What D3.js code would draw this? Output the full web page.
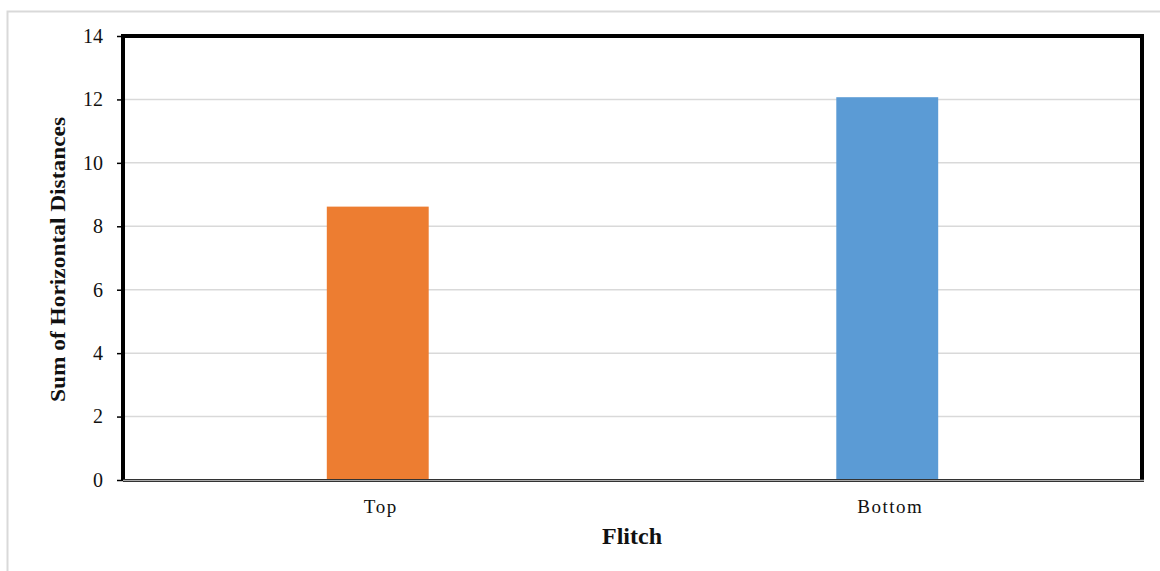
<!DOCTYPE html>
<html>
<head>
<meta charset="utf-8">
<script src="https://cdn.jsdelivr.net/npm/d3@7"></script>
<style>
  html, body { margin: 0; padding: 0; background: #fff; }
  svg { display: block; }
  text { font-family: "Liberation Serif", "Times New Roman", serif; fill: #111; }
</style>
</head>
<body>
<svg id="chart" width="1160" height="571"></svg>
<script>
// Flitch position vs. summed horizontal distance
const categories = ["Top", "Bottom"];
const values = [8.62, 12.07];
const barColors = ["#ed7d31", "#5b9bd5"];
const yTicks = [0, 2, 4, 6, 8, 10, 12, 14];
const xTitle = "Flitch";
const yTitle = "Sum of Horizontal Distances";

const svg = d3.select("#chart");
const W = 1160, H = 571;
const plot = { left: 123, right: 1142, top: 36, bottom: 480 };

// outer chart-area frame
svg.append("rect")
  .attr("x", 7.5).attr("y", 11.5)
  .attr("width", W + 10).attr("height", H + 10)
  .attr("fill", "#fff").attr("stroke", "#d9d9d9").attr("stroke-width", 2);

const x = d3.scaleBand()
  .domain(categories)
  .range([plot.left, plot.right])
  .paddingInner(0.8).paddingOuter(0.4);

const y = d3.scaleLinear().domain([0, 14]).range([plot.bottom, plot.top]);

// horizontal gridlines
svg.append("g")
  .selectAll("line")
  .data(yTicks.filter(d => d > 0 && d < 14))
  .join("line")
  .attr("x1", plot.left).attr("x2", plot.right)
  .attr("y1", d => y(d)).attr("y2", d => y(d))
  .attr("stroke", "#d9d9d9").attr("stroke-width", 1.5);

// bars
svg.append("g")
  .selectAll("rect")
  .data(categories)
  .join("rect")
  .attr("x", d => x(d))
  .attr("width", x.bandwidth())
  .attr("y", (d, i) => y(values[i]))
  .attr("height", (d, i) => y(0) - y(values[i]))
  .attr("fill", (d, i) => barColors[i]);

// y axis
const yAxis = d3.axisLeft(y).tickValues(yTicks).tickSize(6).tickPadding(14).tickFormat(d3.format("d"));
const gy = svg.append("g").attr("transform", `translate(${plot.left},0)`).call(yAxis);
gy.select(".domain").remove();
gy.selectAll(".tick line").attr("stroke", "#000").attr("stroke-width", 1.5);
gy.selectAll(".tick text").attr("font-size", 20).attr("fill", "#111")
  .style("font-family", "'Liberation Serif', serif");

// x axis labels
const xAxis = d3.axisBottom(x).tickSize(0).tickPadding(20);
const gx = svg.append("g").attr("transform", `translate(0,${plot.bottom})`).call(xAxis);
gx.select(".domain").remove();
gx.selectAll(".tick text").attr("font-size", 19).attr("fill", "#111")
  .attr("letter-spacing", "1.5px").attr("dx", "3")
  .style("font-family", "'Liberation Serif', serif");

// plot frame: heavy black top/left/right, double rule at the base
svg.append("line").attr("x1", plot.left - 2).attr("x2", plot.right + 2)
  .attr("y1", plot.top).attr("y2", plot.top)
  .attr("stroke", "#000").attr("stroke-width", 4);
svg.append("line").attr("x1", plot.left).attr("x2", plot.left)
  .attr("y1", plot.top).attr("y2", plot.bottom + 1)
  .attr("stroke", "#000").attr("stroke-width", 4);
svg.append("line").attr("x1", plot.right).attr("x2", plot.right)
  .attr("y1", plot.top).attr("y2", plot.bottom + 2)
  .attr("stroke", "#000").attr("stroke-width", 4);
svg.append("line").attr("x1", plot.left).attr("x2", plot.right + 2)
  .attr("y1", plot.bottom - 0.5).attr("y2", plot.bottom - 0.5)
  .attr("stroke", "#333").attr("stroke-width", 1);
svg.append("line").attr("x1", plot.left).attr("x2", plot.right + 2)
  .attr("y1", plot.bottom + 0.5).attr("y2", plot.bottom + 0.5)
  .attr("stroke", "#aaa").attr("stroke-width", 1);
svg.append("line").attr("x1", plot.left).attr("x2", plot.right + 2)
  .attr("y1", plot.bottom + 1.5).attr("y2", plot.bottom + 1.5)
  .attr("stroke", "#333").attr("stroke-width", 1);

// axis titles
svg.append("text")
  .attr("x", 632).attr("y", 544)
  .attr("text-anchor", "middle")
  .attr("font-size", 24).attr("font-weight", "bold")
  .text(xTitle);

svg.append("text")
  .attr("transform", `translate(65,${(117 + 402) / 2}) rotate(-90)`)
  .attr("text-anchor", "middle")
  .attr("font-size", 21).attr("font-weight", "bold")
  .attr("textLength", 285).attr("lengthAdjust", "spacingAndGlyphs")
  .text(yTitle);
</script>
</body>
</html>
